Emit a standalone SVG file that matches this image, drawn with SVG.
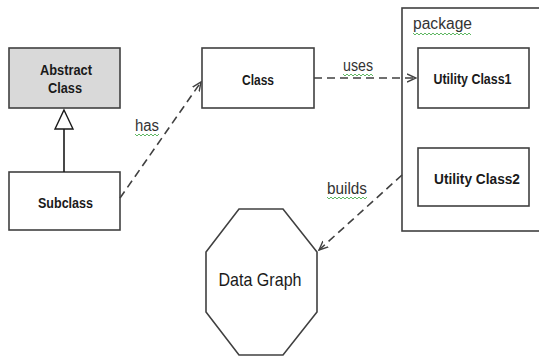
<svg xmlns="http://www.w3.org/2000/svg" width="539" height="358" viewBox="0 0 539 358">
<style>
.box{fill:#fff;stroke:#404040;stroke-width:1.6}
.abs{fill:#d9d9d9;stroke:#404040;stroke-width:1.6}
.lbl{font-family:"Liberation Sans",Arial,sans-serif;font-weight:bold;font-size:14px;fill:#1a1a1a;text-anchor:middle}
.big{font-family:"Liberation Sans",Arial,sans-serif;font-size:19px;fill:#1a1a1a;text-anchor:middle}
.edge{font-family:"Liberation Sans",Arial,sans-serif;font-size:16px;fill:#333}
.dash{fill:none;stroke:#404040;stroke-width:1.6;stroke-dasharray:8,5}
.squig{fill:none;stroke:#4caf50;stroke-width:0.9}
</style>
<defs>
<marker id="open" viewBox="0 0 10 10" refX="9" refY="5" markerWidth="10" markerHeight="10" markerUnits="userSpaceOnUse" orient="auto">
<path d="M0,1 L9,5 L0,9" fill="none" stroke="#404040" stroke-width="1.4"/>
</marker>
</defs>
<rect width="539" height="358" fill="#fff"/>
<g id="package">
<rect class="box" x="402" y="8" width="145" height="223"/>
<text x="413" y="29" class="edge" textLength="59" lengthAdjust="spacingAndGlyphs">package</text>
<path class="squig" d="M413,33 l2,2 l2,-2 l2,2 l2,-2 l2,2 l2,-2 l2,2 l2,-2 l2,2 l2,-2 l2,2 l2,-2 l2,2 l2,-2 l2,2 l2,-2 l2,2 l2,-2 l2,2 l2,-2 l2,2 l2,-2 l2,2 l2,-2 l2,2 l2,-2 l2,2 l2,-2 l2,2"/>
</g>
<g id="abstract">
<rect class="abs" x="9" y="48" width="111" height="60"/>
<text x="66" y="75" class="lbl" textLength="52" lengthAdjust="spacingAndGlyphs">Abstract</text>
<text x="65" y="93" class="lbl" textLength="34" lengthAdjust="spacingAndGlyphs">Class</text>
</g>
<g id="subclass">
<rect class="box" x="9" y="172" width="111" height="58"/>
<text x="65.5" y="208" class="lbl" textLength="55" lengthAdjust="spacingAndGlyphs">Subclass</text>
</g>
<g id="class">
<rect class="box" x="202" y="48" width="112" height="60"/>
<text x="258" y="85" class="lbl" textLength="32" lengthAdjust="spacingAndGlyphs">Class</text>
</g>
<g id="utility1">
<rect class="box" x="418" y="48" width="111" height="60"/>
<text x="472.5" y="84" class="lbl" textLength="78" lengthAdjust="spacingAndGlyphs">Utility Class1</text>
</g>
<g id="utility2">
<rect class="box" x="418" y="148" width="111" height="58"/>
<text x="477" y="184" class="lbl" textLength="86" lengthAdjust="spacingAndGlyphs">Utility Class2</text>
</g>
<g id="datagraph">
<polygon class="box" points="239,209 283,209 317,252 317,312 283,355 239,355 206,312 206,252"/>
<text x="260" y="286" class="big" textLength="83" lengthAdjust="spacingAndGlyphs">Data Graph</text>
</g>
<g id="connectors">
<line x1="64" y1="129" x2="64" y2="172" stroke="#1a1a1a" stroke-width="1.6"/>
<polygon points="64,110 73,129 55,129" fill="#fff" stroke="#1a1a1a" stroke-width="1.4"/>
<path class="dash" d="M120,198 L201,82" marker-end="url(#open)"/>
<path class="dash" d="M314,78 L416,78" marker-end="url(#open)"/>
<path class="dash" d="M402,175 L319,250" marker-end="url(#open)"/>
<text x="135" y="131" class="edge" textLength="24" lengthAdjust="spacingAndGlyphs">has</text>
<path class="squig" d="M135,134 l2,2 l2,-2 l2,2 l2,-2 l2,2 l2,-2 l2,2 l2,-2 l2,2 l2,-2 l2,2 l2,-2"/>
<text x="343" y="71" class="edge" textLength="30" lengthAdjust="spacingAndGlyphs">uses</text>
<path class="squig" d="M343,74 l2,2 l2,-2 l2,2 l2,-2 l2,2 l2,-2 l2,2 l2,-2 l2,2 l2,-2 l2,2 l2,-2 l2,2 l2,-2 l2,2"/>
<text x="327" y="194" class="edge" textLength="40" lengthAdjust="spacingAndGlyphs">builds</text>
<path class="squig" d="M327,197 l2,2 l2,-2 l2,2 l2,-2 l2,2 l2,-2 l2,2 l2,-2 l2,2 l2,-2 l2,2 l2,-2 l2,2 l2,-2 l2,2 l2,-2 l2,2 l2,-2 l2,2 l2,-2"/>
</g>
</svg>
